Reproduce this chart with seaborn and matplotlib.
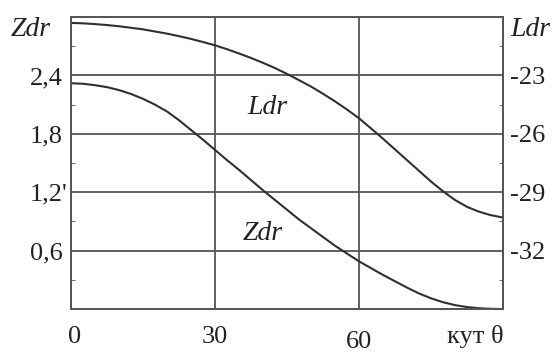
import matplotlib
matplotlib.use("Agg")
import matplotlib.pyplot as plt
import matplotlib.transforms as mtransforms
import pandas as pd
import seaborn as sns

# Values (every 2.5 degrees)
angle = [0, 2.5, 5, 7.5, 10, 12.5, 15, 17.5, 20, 22.5, 25, 27.5, 30, 32.5, 35, 37.5,
         40, 42.5, 45, 47.5, 50, 52.5, 55, 57.5, 60, 62.5, 65, 67.5, 70, 72.5, 75,
         77.5, 80, 82.5, 85, 87.5, 90]
zdr = [2.32, 2.315, 2.30, 2.28, 2.25, 2.21, 2.16, 2.10, 2.03, 1.94, 1.84, 1.74,
       1.635, 1.53, 1.43, 1.325, 1.22, 1.12, 1.02, 0.92, 0.83, 0.74, 0.65, 0.57,
       0.49, 0.42, 0.35, 0.285, 0.22, 0.16, 0.11, 0.07, 0.04, 0.02, 0.008, 0.002, 0.0]
ldr = [-20.30, -20.32, -20.36, -20.41, -20.47, -20.55, -20.63, -20.74, -20.85,
       -20.98, -21.12, -21.28, -21.45, -21.65, -21.87, -22.10, -22.35, -22.62,
       -22.92, -23.24, -23.57, -23.94, -24.33, -24.75, -25.20, -25.72, -26.25,
       -26.80, -27.35, -27.90, -28.45, -28.95, -29.40, -29.75, -30.00, -30.18, -30.30]

zdr_ticks = [0.6, 1.2, 1.8, 2.4]
zdr_labels = ["0,6", "1,2'", "1,8", "2,4"]
ldr_ticks = [-32, -29, -26, -23]
ldr_labels = ["-32", "-29", "-26", "-23"]
x_ticks = [0, 30, 60]
x_labels = ["0", "30", "60"]

df = pd.DataFrame({"angle": angle, "zdr": zdr, "ldr": ldr})

sns.set_style("white")
plt.rcParams["font.family"] = ["Liberation Serif", "DejaVu Serif"]

grid_col = "#555555"
line_col = "#303030"
text_col = "#222222"

fig = plt.figure(figsize=(5.56, 3.56), dpi=100)
ax = fig.add_axes([0.1277, 0.132, 0.777, 0.82])
ax2 = ax.twinx()

sns.lineplot(data=df, x="angle", y="zdr", ax=ax, color=line_col, lw=1.5)
sns.lineplot(data=df, x="angle", y="ldr", ax=ax2, color=line_col, lw=1.5)

ax.set_xlim(0, 90)
ax.set_ylim(0, 3.0)
ax2.set_ylim(-35, -20)

# grid
for v in zdr_ticks:
    ax.axhline(v, color=grid_col, lw=1.3, zorder=0)
for v in [30, 60]:
    ax.axvline(v, color=grid_col, lw=1.3, zorder=0)

ax.set_xticks(x_ticks)
ax.set_xticklabels(x_labels, fontsize=19)
ax.set_yticks(zdr_ticks)
ax.set_yticklabels(zdr_labels, fontsize=19)
ax2.set_yticks(ldr_ticks)
ax2.set_yticklabels(ldr_labels, fontsize=19)

ax.set_xticks([15, 45, 75], minor=True)
ax.set_yticks([0.3, 0.9, 1.5, 2.1, 2.7], minor=True)
ax2.set_yticks([-33.5, -30.5, -27.5, -24.5, -21.5], minor=True)

ax.tick_params(axis="both", which="major", length=0, pad=6, colors=text_col)
ax.tick_params(axis="x", which="major", pad=12)
ax.tick_params(axis="both", which="minor", length=3, direction="in", color=grid_col)
ax2.tick_params(axis="y", which="major", length=0, pad=5, colors=text_col)
ax2.tick_params(axis="y", which="minor", length=3, direction="in", color=grid_col)

# nudge a few labels like in the scan
lab0 = ax.get_xticklabels()[0]
lab0.set_transform(lab0.get_transform() + mtransforms.ScaledTranslation(4 / 100, 0, fig.dpi_scale_trans))
lab60 = ax.get_xticklabels()[2]
lab60.set_transform(lab60.get_transform() + mtransforms.ScaledTranslation(0, -5 / 100, fig.dpi_scale_trans))
lab12 = ax.get_yticklabels()[1]
lab12.set_transform(lab12.get_transform() + mtransforms.ScaledTranslation(5 / 100, 0, fig.dpi_scale_trans))

ax.set_xlabel("")
ax.set_ylabel("")
ax2.set_ylabel("")

for a in (ax, ax2):
    for s in a.spines.values():
        s.set_color(grid_col)
        s.set_linewidth(1.3)
        s.set_visible(True)

# axis titles and curve labels
fig.text(31 / 556, 1 - 30 / 356, "Zdr", fontsize=20, style="italic", ha="center", va="center", color=text_col)
fig.text(530 / 556, 1 - 30 / 356, "Ldr", fontsize=20, style="italic", ha="center", va="center", color=text_col)
fig.text(475 / 556, 1 - 336 / 356, "кут θ", fontsize=19, ha="center", va="center", color=text_col)
ax.text(41, 2.07, "Ldr", fontsize=20, style="italic", ha="center", va="center", color=text_col)
ax.text(40, 0.78, "Zdr", fontsize=20, style="italic", ha="center", va="center", color=text_col)

fig.savefig("out.png", dpi=100)
